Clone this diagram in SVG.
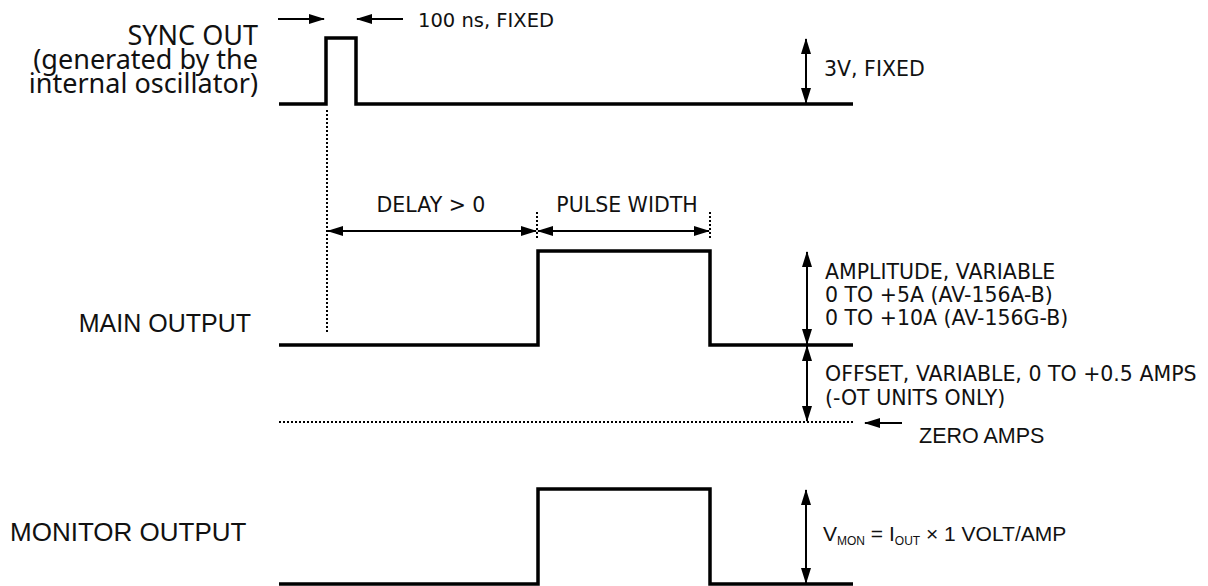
<svg xmlns="http://www.w3.org/2000/svg" width="1208" height="586" viewBox="0 0 1208 586">
<defs>
<marker id="ah" markerUnits="userSpaceOnUse" markerWidth="16" markerHeight="10" refX="15" refY="5" orient="auto-start-reverse" viewBox="0 0 16 10">
<path d="M0,0 L16,5 L0,10 z" fill="#000"/>
</marker>
<style>
.wave{fill:none;stroke:#000;stroke-width:3.5;stroke-linejoin:miter}
.dot{fill:none;stroke:#000;stroke-width:2;stroke-dasharray:2,2}
.arr{fill:none;stroke:#000;stroke-width:2}
.lab{font-family:"Noto Sans","DejaVu Sans",sans-serif;font-size:27px;fill:#111}
.big{font-family:"Liberation Sans",Arial,sans-serif;font-size:25px;fill:#111}
.ann{font-family:"DejaVu Sans",Verdana,sans-serif;font-size:20.5px;fill:#111}
.ar{font-family:"Liberation Sans",Arial,sans-serif;font-size:21.5px;fill:#111}
</style>
</defs>
<rect width="1208" height="586" fill="#fff"/>
<g id="sync-label">
<text class="lab" x="258" y="45" text-anchor="end">SYNC OUT</text>
<text class="lab" x="258" y="69" text-anchor="end">(generated by the</text>
<text class="lab" x="258" y="93" text-anchor="end">internal oscillator)</text>
</g>
<g id="sync-wave">
<path class="wave" d="M279,104 H326 V38 H356 V104 H853"/>
</g>
<g id="main-label">
<text class="big" x="251" y="332" text-anchor="end">MAIN OUTPUT</text>
</g>
<g id="main-wave">
<path class="wave" d="M279,345 H538 V251 H710 V345 H853"/>
<path class="dot" d="M279,422 H853"/>
</g>
<g id="monitor-label">
<text class="big" x="10" y="541" style="font-size:26px">MONITOR OUTPUT</text>
</g>
<g id="monitor-wave">
<path class="wave" d="M279,584 H538 V489 H710 V584 H853"/>
</g>
<g id="annotations">
<text class="ann" x="418" y="27" style="font-size:19.5px">100 ns, FIXED</text>
<text class="ann" x="824" y="76">3V, FIXED</text>
<text class="ann" x="431" y="212" text-anchor="middle">DELAY &gt; 0</text>
<text class="ann" x="627" y="212" text-anchor="middle">PULSE WIDTH</text>
<text class="ann" x="825" y="279">AMPLITUDE, VARIABLE</text>
<text class="ann" x="825" y="302">0 TO +5A (AV-156A-B)</text>
<text class="ann" x="825" y="325">0 TO +10A (AV-156G-B)</text>
<text class="ann" x="825" y="381">OFFSET, VARIABLE, 0 TO +0.5 AMPS</text>
<text class="ann" x="825" y="405">(-OT UNITS ONLY)</text>
<text class="ar" x="919" y="443">ZERO AMPS</text>
<text class="ar" x="823" y="541" style="font-size:21px">V<tspan font-size="12" dy="4">MON</tspan><tspan dy="-4"> = I</tspan><tspan font-size="12" dy="4">OUT</tspan><tspan dy="-4"> × 1 VOLT/AMP</tspan></text>
</g>
<g id="connectors">
<path class="arr" d="M278,19 H324" marker-end="url(#ah)"/>
<path class="arr" d="M403,19 H357" marker-end="url(#ah)"/>
<path class="dot" d="M327,110 V334"/>
<path class="dot" d="M537,212 V238"/>
<path class="dot" d="M710,212 V238"/>
<path class="arr" d="M328,231 H536" marker-start="url(#ah)" marker-end="url(#ah)"/>
<path class="arr" d="M538,231 H709" marker-start="url(#ah)" marker-end="url(#ah)"/>
<path class="arr" d="M806,39 V103" marker-start="url(#ah)" marker-end="url(#ah)"/>
<path class="arr" d="M807,252 V344" marker-start="url(#ah)" marker-end="url(#ah)"/>
<path class="arr" d="M807,346 V421" marker-start="url(#ah)" marker-end="url(#ah)"/>
<path class="arr" d="M902,423 H865" marker-end="url(#ah)"/>
<path class="arr" d="M806,490 V583" marker-start="url(#ah)" marker-end="url(#ah)"/>
</g>
</svg>
